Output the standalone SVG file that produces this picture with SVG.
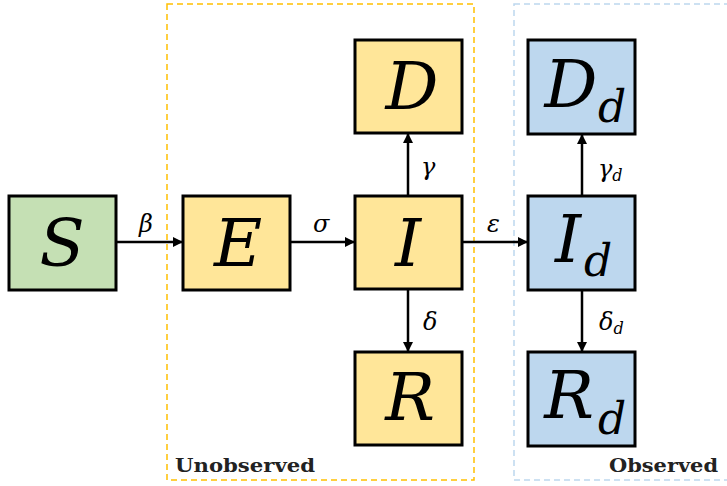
<svg xmlns="http://www.w3.org/2000/svg" width="727" height="486" viewBox="0 0 727 486">
  <style>
    .box { stroke: #000; stroke-width: 3; }
    .green { fill: #C5E0B4; }
    .yellow { fill: #FFE699; }
    .blue { fill: #BDD7EE; }
    .big { font-family: "DejaVu Serif", "Liberation Serif", serif; font-style: italic; font-size: 66px; fill: #000; text-anchor: middle; }
    .sub { font-family: "DejaVu Serif", "Liberation Serif", serif; font-style: italic; font-size: 44px; fill: #000; }
    .rate { font-family: "DejaVu Serif", "Liberation Serif", serif; font-style: italic; font-size: 24px; fill: #000; }
    .rsub { font-size: 16px; }
    .edge { stroke: #000; stroke-width: 2.5; fill: none; marker-end: url(#arrow); }
    .group-label { font-family: "DejaVu Serif", "Liberation Serif", serif; font-weight: bold; font-size: 19px; fill: #222; }
  </style>
  <defs>
    <marker id="arrow" viewBox="0 0 10 10" refX="9" refY="5" markerWidth="4" markerHeight="4" orient="auto" markerUnits="strokeWidth">
      <path d="M0,0 L10,5 L0,10 z" fill="#000"/>
    </marker>
  </defs>

  <rect width="727" height="486" fill="#fff"/>

  <!-- compartment regions -->
  <g id="unobserved">
    <rect x="167" y="4" width="307" height="476" fill="none" stroke="#FFC000" stroke-width="1.5" stroke-dasharray="6,4"/>
    <text class="group-label" x="175" y="472" textLength="140" lengthAdjust="spacingAndGlyphs">Unobserved</text>
  </g>
  <g id="observed">
    <rect x="514" y="4" width="220" height="476" fill="none" stroke="#BDD7EE" stroke-width="1.5" stroke-dasharray="6,4"/>
    <text class="group-label" x="609" y="472" textLength="109" lengthAdjust="spacingAndGlyphs">Observed</text>
  </g>

  <!-- transitions -->
  <g id="connectors">
    <line class="edge" x1="116" y1="242" x2="182" y2="242"/>
    <line class="edge" x1="290" y1="242" x2="354" y2="242"/>
    <line class="edge" x1="462" y1="242" x2="527" y2="242"/>
    <line class="edge" x1="408" y1="195" x2="408" y2="134"/>
    <line class="edge" x1="408" y1="289" x2="408" y2="351"/>
    <line class="edge" x1="582" y1="195" x2="582" y2="135"/>
    <line class="edge" x1="582" y1="290" x2="582" y2="351"/>
    <text class="rate" x="139" y="232">β</text>
    <text class="rate" x="313" y="232">σ</text>
    <text class="rate" x="487" y="232">ε</text>
    <text class="rate" x="421" y="175">γ</text>
    <text class="rate" x="423" y="330">δ</text>
    <text class="rate" x="598" y="177">γ<tspan class="rsub" dy="4">d</tspan></text>
    <text class="rate" x="599" y="330">δ<tspan class="rsub" dy="4">d</tspan></text>
  </g>

  <!-- compartments -->
  <g id="S">
    <rect class="box green" x="9" y="196" width="107" height="94"/>
    <text class="big" x="62" y="266">S</text>
  </g>
  <g id="E">
    <rect class="box yellow" x="183" y="196" width="107" height="94"/>
    <text class="big" x="238" y="266">E</text>
  </g>
  <g id="I">
    <rect class="box yellow" x="355" y="196" width="107" height="93"/>
    <text class="big" x="408" y="266">I</text>
  </g>
  <g id="D">
    <rect class="box yellow" x="355" y="40" width="107" height="93"/>
    <text class="big" x="412" y="109">D</text>
  </g>
  <g id="R">
    <rect class="box yellow" x="355" y="352" width="107" height="93"/>
    <text class="big" x="410" y="420">R</text>
  </g>
  <g id="Dd">
    <rect class="box blue" x="528" y="40" width="107" height="94"/>
    <text class="big" x="571" y="107">D</text>
    <text class="sub" x="598" y="122">d</text>
  </g>
  <g id="Id">
    <rect class="box blue" x="528" y="196" width="107" height="94"/>
    <text class="big" x="568" y="262">I</text>
    <text class="sub" x="584" y="276">d</text>
  </g>
  <g id="Rd">
    <rect class="box blue" x="528" y="352" width="107" height="94"/>
    <text class="big" x="569" y="418">R</text>
    <text class="sub" x="598" y="434">d</text>
  </g>
</svg>
